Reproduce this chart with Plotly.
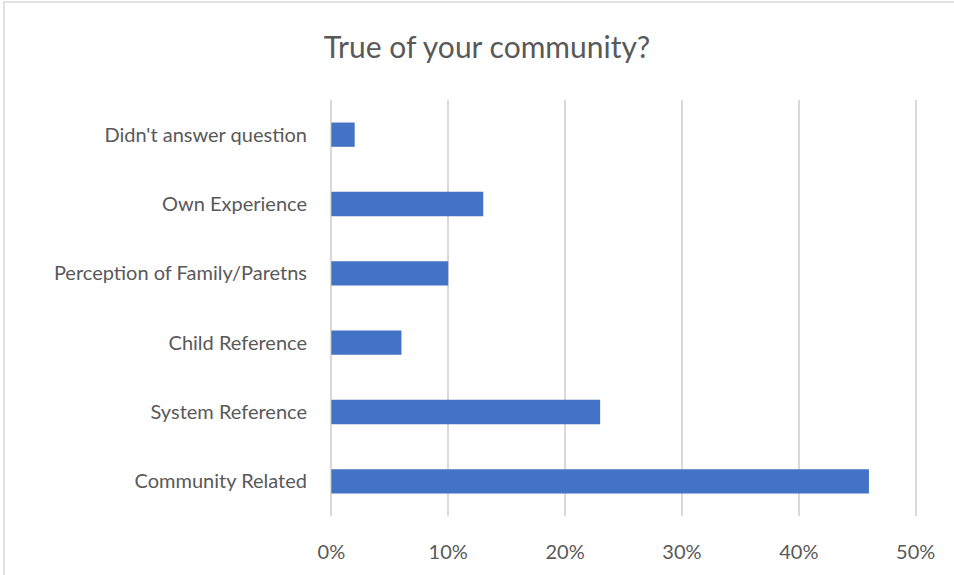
import plotly.graph_objects as go

categories = [
    "Community Related",
    "System Reference",
    "Child Reference",
    "Perception of Family/Paretns",
    "Own Experience",
    "Didn't answer question",
]
shares = [0.46, 0.23, 0.06, 0.10, 0.13, 0.02]
tick_values = [0, 0.1, 0.2, 0.3, 0.4, 0.5]
tick_labels = ["0%", "10%", "20%", "30%", "40%", "50%"]

W, H = 954, 575
L, R, T, B = 329, 36, 100, 59
pw, ph = W - L - R, H - T - B

def px_x(x):
    return (x - L) / pw

def px_y(y):
    return (H - B - y) / ph

fig = go.Figure(
    go.Bar(
        x=shares,
        y=categories,
        orientation="h",
        width=0.35,
        marker=dict(color="#4472C4", line=dict(width=0)),
        hoverinfo="x+y",
    )
)

fig.update_layout(
    width=W,
    height=H,
    margin=dict(l=L, r=R, t=T, b=B, autoexpand=False),
    paper_bgcolor="white",
    plot_bgcolor="white",
    font=dict(family="Lato, 'Open Sans', sans-serif", color="#595959"),
    title=dict(
        text="True of your community?",
        x=487 / W,
        xanchor="center",
        y=1 - 47 / H,
        yanchor="middle",
        font=dict(size=30, color="#595959"),
    ),
    showlegend=False,
    bargap=0.65,
    xaxis=dict(
        range=[-0.002, 0.502],
        tickvals=tick_values,
        ticktext=tick_labels,
        showgrid=True,
        gridcolor="#d9d9d9",
        gridwidth=1.5,
        zeroline=True,
        zerolinecolor="#d9d9d9",
        zerolinewidth=1.5,
        showline=False,
        ticks="",
        tickfont=dict(size=20, color="#595959"),
        ticklabelstandoff=22,
        fixedrange=True,
    ),
    yaxis=dict(
        categoryorder="array",
        categoryarray=categories,
        showgrid=False,
        zeroline=False,
        showline=False,
        ticks="",
        tickfont=dict(size=20, color="#595959"),
        ticklabelstandoff=21,
        fixedrange=True,
    ),
    shapes=[
        dict(
            type="rect",
            xref="paper",
            yref="paper",
            x0=px_x(4),
            x1=px_x(970),
            y0=px_y(590),
            y1=px_y(2),
            line=dict(color="#d9d9d9", width=1.5),
            fillcolor="rgba(0,0,0,0)",
            layer="below",
        )
    ],
)

fig.write_html("out.html")
